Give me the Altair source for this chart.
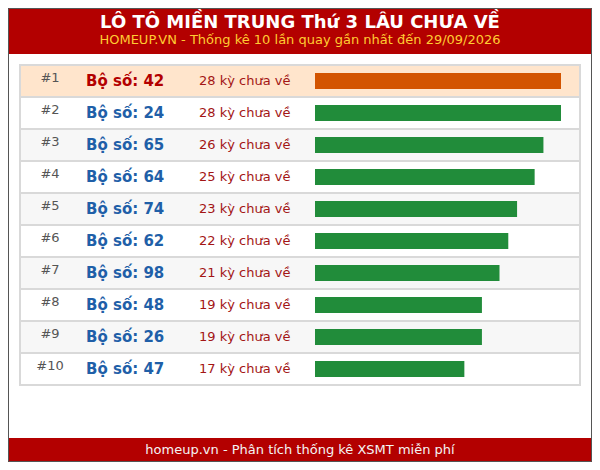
import altair as alt
import pandas as pd

title = "LÔ TÔ MIỀN TRUNG Thứ 3 LÂU CHƯA VỀ"
subtitle = "HOMEUP.VN - Thống kê 10 lần quay gần nhất đến 29/09/2026"
footer = "homeup.vn - Phân tích thống kê XSMT miễn phí"

numbers = ["42", "24", "65", "64", "74", "62", "98", "48", "26", "47"]
counts = [28, 28, 26, 25, 23, 22, 21, 19, 19, 17]

df = pd.DataFrame({"rank": range(1, len(numbers) + 1), "so": numbers, "ky": counts})
df["rank_txt"] = "#" + df["rank"].astype(str)
df["label"] = "Bộ số: " + df["so"]
df["ky_txt"] = df["ky"].astype(str) + " kỳ chưa về"
df["kind"] = ["top" if r == 1 else ("even" if r % 2 == 0 else "odd") for r in df["rank"]]

W, H = 584, 454
FONT = "DejaVu Sans"

y = alt.Y("rank:O", axis=None,
          scale=alt.Scale(type="band", range=[57, 377], paddingInner=0, paddingOuter=0))

base = alt.Chart(df)

# row backgrounds
rows = base.mark_rect(stroke="#d9d9d9", strokeWidth=2).encode(
    x=alt.value(12), x2=alt.value(572), y=y,
    fill=alt.Fill("kind:N", legend=None,
                  scale=alt.Scale(domain=["top", "even", "odd"],
                                  range=["#ffe5cc", "#ffffff", "#f7f7f7"]))
)

rank_txt = base.mark_text(align="center", baseline="middle", dy=-3, fontSize=13,
                          color="#555555", font=FONT).encode(
    x=alt.value(42), y=y, text="rank_txt:N"
)

labels = base.mark_text(align="left", baseline="middle", fontSize=15, fontWeight="bold",
                        font=FONT).encode(
    x=alt.value(78), y=y, text="label:N",
    color=alt.condition("datum.rank == 1", alt.value("#b30000"), alt.value("#1f5fa8"))
)

ky_txt = base.mark_text(align="left", baseline="middle", fontSize=13, color="#a31515",
                        font=FONT).encode(
    x=alt.value(191), y=y, text="ky_txt:N"
)

bars = base.mark_bar(size=16).encode(
    x=alt.X("ky:Q", axis=None, scale=alt.Scale(domain=[0, max(counts)], range=[307, 553])),
    y=y,
    color=alt.condition("datum.rank == 1", alt.value("#d35400"), alt.value("#218c3a"))
)

# header / footer
deco = alt.Chart(pd.DataFrame({"t": [title], "s": [subtitle], "f": [footer]}))

header = deco.mark_rect(color="#b30000").encode(
    x=alt.value(0), x2=alt.value(W), y=alt.value(0), y2=alt.value(46))
head_t = deco.mark_text(fontSize=18, fontWeight="bold", color="white", font=FONT,
                        baseline="middle").encode(
    x=alt.value(W / 2), y=alt.value(15), text="t:N")
head_s = deco.mark_text(fontSize=13, color="#ffcc33", font=FONT, baseline="middle").encode(
    x=alt.value(W / 2), y=alt.value(32), text="s:N")

foot = deco.mark_rect(color="#b30000").encode(
    x=alt.value(0), x2=alt.value(W), y=alt.value(430), y2=alt.value(H))
foot_t = deco.mark_text(fontSize=13, color="#f4f4f4", font=FONT, baseline="middle").encode(
    x=alt.value(W / 2), y=alt.value(442), text="f:N")

border = deco.mark_rect(fillOpacity=0, stroke="#555555", strokeWidth=1).encode(
    x=alt.value(0.5), x2=alt.value(W - 0.5), y=alt.value(0.5), y2=alt.value(H - 0.5))

chart = alt.layer(
    header, head_t, head_s, rows, rank_txt, labels, ky_txt, bars, foot, foot_t, border
).properties(
    width=W, height=H, padding=0,
    autosize=alt.AutoSizeParams(type="none"),
    background="white"
).configure_view(strokeWidth=0)

chart.save("out.html", embed_options={"renderer": "svg", "actions": False})
